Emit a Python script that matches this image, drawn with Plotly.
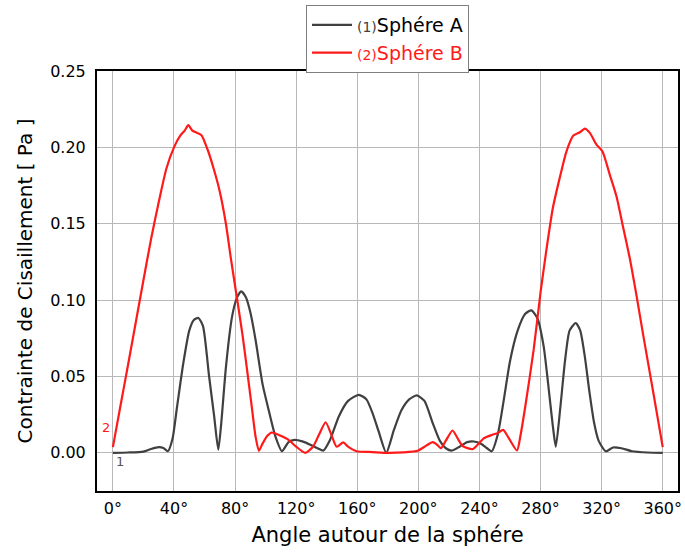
import plotly.graph_objects as go

# Sphére A (courbe 1)
angle_a = [0, 10, 20, 25, 30, 33, 36, 39, 42, 46, 50, 53, 56, 59, 63, 66.3, 69,
           71, 74, 78, 81, 84, 87, 90, 93.4, 98, 102, 106.4, 110.7, 115, 119, 124,
           130, 134, 137.8, 142, 148, 154, 161, 166, 170, 174, 179,
           184, 189, 194, 199, 204, 209.4, 214, 218, 222, 227, 232, 236.4, 241,
           245, 248, 252, 256, 260, 265, 270, 274, 278, 282, 285, 288, 290,
           293, 296, 299, 303, 306, 309, 312, 315, 318, 322.7, 327.5, 333, 340,
           350, 360]
contrainte_a = [0.0, 0.0002, 0.0008, 0.0025, 0.0037, 0.0032, 0.001, 0.009, 0.03,
                0.058, 0.08, 0.087, 0.0883, 0.083, 0.05, 0.024, 0.002,
                0.02, 0.056, 0.089, 0.101, 0.1057, 0.102, 0.092, 0.074, 0.045,
                0.028, 0.0107, 0.001, 0.007, 0.0085, 0.0075,
                0.005, 0.003, 0.0015, 0.008, 0.024, 0.034, 0.038, 0.035, 0.026,
                0.014, 0.0,
                0.015, 0.028, 0.035, 0.0376, 0.034, 0.0195, 0.008, 0.003, 0.0015,
                0.004, 0.007, 0.0074, 0.006,
                0.003, 0.001, 0.012, 0.035, 0.06, 0.08, 0.091, 0.0933, 0.088,
                0.07, 0.045, 0.018, 0.004,
                0.03, 0.06, 0.08, 0.085, 0.08, 0.063, 0.04, 0.02, 0.008, 0.001,
                0.0035, 0.003, 0.001,
                0.0002, 0.0]

# Sphére B (courbe 2)
angle_b = [0, 5, 10, 15, 20, 25, 30, 35, 40, 44, 47, 49.4, 52, 55, 58, 62, 66,
           70, 74, 77, 80.4, 84.7, 87, 91.2, 93.4, 95.6, 98, 101, 104, 109, 115,
           120, 126, 131, 135, 139.3, 143, 146.5, 150.8, 154, 159.5, 170, 180,
           190, 199.6, 204, 209.4, 212, 214.8, 218, 222.4, 226, 229, 235.4, 239,
           243, 248.4, 252, 255.5, 259, 264.6, 267, 270, 275.5, 280, 284,
           288, 292.8, 297, 301.5, 305.8, 309, 312.3, 316.6, 320.5, 325.3,
           329.7, 334, 338.3, 343, 347, 353.5, 360]
contrainte_b = [0.0037, 0.031, 0.058, 0.0855, 0.113, 0.14, 0.164, 0.186, 0.2,
                0.2075, 0.211, 0.2145, 0.211, 0.2095, 0.208, 0.1986, 0.186,
                0.171, 0.15, 0.129, 0.1068, 0.0784, 0.061, 0.028, 0.0107, 0.0013,
                0.006, 0.011, 0.0133, 0.0115, 0.0085,
                0.004, 0.0, 0.004, 0.012, 0.020, 0.012, 0.004, 0.0068, 0.004,
                0.001, 0.0005, 0.0,
                0.0003, 0.0013, 0.004, 0.007, 0.0055, 0.003, 0.008, 0.0146,
                0.009, 0.0044, 0.0024, 0.0055,
                0.0096, 0.0118, 0.013, 0.015, 0.01, 0.0015, 0.012, 0.0303,
                0.0675, 0.105, 0.134,
                0.16, 0.181, 0.1974, 0.2077, 0.2099, 0.2123, 0.2095, 0.2018,
                0.1974, 0.1822,
                0.168, 0.148, 0.128, 0.102, 0.0784, 0.0413, 0.0037]

tick_vals = [0, 40, 80, 120, 160, 200, 240, 280, 320, 360]
tick_text = [f"{v}°" for v in tick_vals]

POLICE = "DejaVu Sans, Verdana, sans-serif"

fig = go.Figure([
    go.Scatter(
        x=angle_a, y=contrainte_a, mode="lines",
        line=dict(color="#404040", width=2.2, shape="spline", smoothing=0.6),
        name="<span style='font-size:14px;color:#404040'>(1)</span>Sphére A",
    ),
    go.Scatter(
        x=angle_b, y=contrainte_b, mode="lines",
        line=dict(color="#ff1a1a", width=2.2, shape="spline", smoothing=0.6),
        name="<span style='font-size:14px;color:#ff1a1a'>(2)</span>"
             "<span style='color:#ff1a1a'>Sphére B</span>",
    ),
])

# étiquettes des courbes près de l'origine
fig.add_annotation(x=4.5, y=-0.006, text="1", showarrow=False,
                   font=dict(size=13, color="#555555", family=POLICE))
fig.add_annotation(x=-4.5, y=0.0165, text="2", showarrow=False,
                   font=dict(size=13, color="#ff1a1a", family=POLICE))

fig.update_layout(
    width=685, height=554,
    paper_bgcolor="white", plot_bgcolor="white",
    margin=dict(l=97, r=3, t=71, b=63),
    font=dict(family=POLICE, color="black"),
    showlegend=True,
    legend=dict(
        x=0.5, xanchor="center", y=1.157, yanchor="top",
        font=dict(size=19, color="black", family=POLICE),
        bgcolor="white", bordercolor="#7f7f7f", borderwidth=1,
        tracegroupgap=0, itemwidth=40,
    ),
    xaxis=dict(
        range=[-10.4, 370], tickvals=tick_vals, ticktext=tick_text,
        showgrid=True, gridcolor="#b8b8b8", gridwidth=1, zeroline=False,
        showline=True, linecolor="black", linewidth=2, mirror=True,
        ticks="", tickfont=dict(size=16), ticklabelstandoff=2,
        title=dict(text="Angle autour de la sphére", font=dict(size=21), standoff=10),
    ),
    yaxis=dict(
        range=[-0.025, 0.25], tickvals=[0, 0.05, 0.1, 0.15, 0.2, 0.25],
        tickformat=".2f",
        showgrid=True, gridcolor="#b8b8b8", gridwidth=1, zeroline=False,
        showline=True, linecolor="black", linewidth=2, mirror=True,
        ticks="", tickfont=dict(size=16), ticklabelstandoff=6,
        title=dict(text="Contrainte de Cisaillement [ Pa ]", font=dict(size=20), standoff=12),
    ),
)

fig.write_html("out.html", config={"displayModeBar": False},
               post_script="document.body.style.margin='0';")
